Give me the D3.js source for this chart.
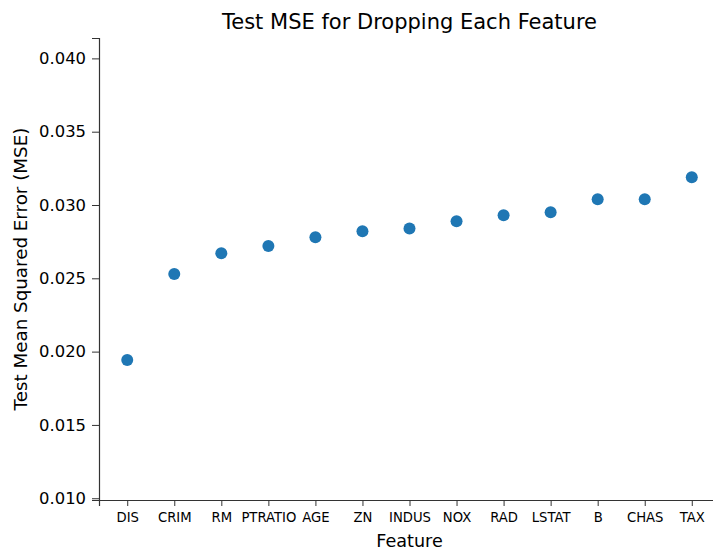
<!DOCTYPE html>
<html>
<head>
<meta charset="utf-8">
<script src="https://cdn.jsdelivr.net/npm/d3@7"></script>
<style>
  body { margin: 0; background: #fff; }
  text { font-family: "DejaVu Sans", sans-serif; fill: #000; }
</style>
</head>
<body>
<div id="chart"></div>
<script>
var features = ["DIS", "CRIM", "RM", "PTRATIO", "AGE", "ZN", "INDUS",
                "NOX", "RAD", "LSTAT", "B", "CHAS", "TAX"];
var mse = [0.01943, 0.02530, 0.02671, 0.02720, 0.02780, 0.02821, 0.02840,
           0.02889, 0.02930, 0.02950, 0.03039, 0.03039, 0.03189];
var yTicks = [0.010, 0.015, 0.020, 0.025, 0.030, 0.035, 0.040];

var W = 713, H = 552;
var plotLeft = 99, plotRight = 720, plotTop = 38, plotBottom = 500;

var svg = d3.select("#chart").append("svg")
    .attr("width", W)
    .attr("height", H);

var x = d3.scalePoint()
    .domain(features)
    .range([plotLeft, plotRight])
    .padding(0.6);

var y = d3.scaleLinear()
    .domain([0.00988, 0.04139])
    .range([plotBottom, plotTop]);

// y axis
var gy = svg.append("g")
    .attr("transform", "translate(" + plotLeft + ",0)")
    .call(d3.axisLeft(y).tickValues(yTicks).tickFormat(d3.format(".3f")).tickSize(7).tickPadding(6));
gy.selectAll("text").style("font-size", "16.4px");

// x axis
var gx = svg.append("g")
    .attr("transform", "translate(0," + plotBottom + ")")
    .call(d3.axisBottom(x).tickSize(6).tickPadding(7));
gx.selectAll("text").style("font-size", "13.2px");

svg.selectAll(".domain").attr("stroke", "#333").attr("stroke-width", 1.2);
svg.selectAll(".tick line").attr("stroke", "#333");

// points
svg.append("g")
    .selectAll("circle")
    .data(features)
    .join("circle")
    .attr("cx", function (d) { return x(d); })
    .attr("cy", function (d, i) { return y(mse[i]); })
    .attr("r", 6)
    .attr("fill", "#1f77b4");

// title and labels
svg.append("text")
    .attr("x", (plotLeft + plotRight) / 2)
    .attr("y", 29)
    .attr("text-anchor", "middle")
    .style("font-size", "21px")
    .text("Test MSE for Dropping Each Feature");

svg.append("text")
    .attr("x", (plotLeft + plotRight) / 2)
    .attr("y", 547)
    .attr("text-anchor", "middle")
    .style("font-size", "17.6px")
    .text("Feature");

svg.append("text")
    .attr("transform", "translate(27," + ((plotTop + plotBottom) / 2) + ") rotate(-90)")
    .attr("text-anchor", "middle")
    .style("font-size", "18.3px")
    .text("Test Mean Squared Error (MSE)");
</script>
</body>
</html>
